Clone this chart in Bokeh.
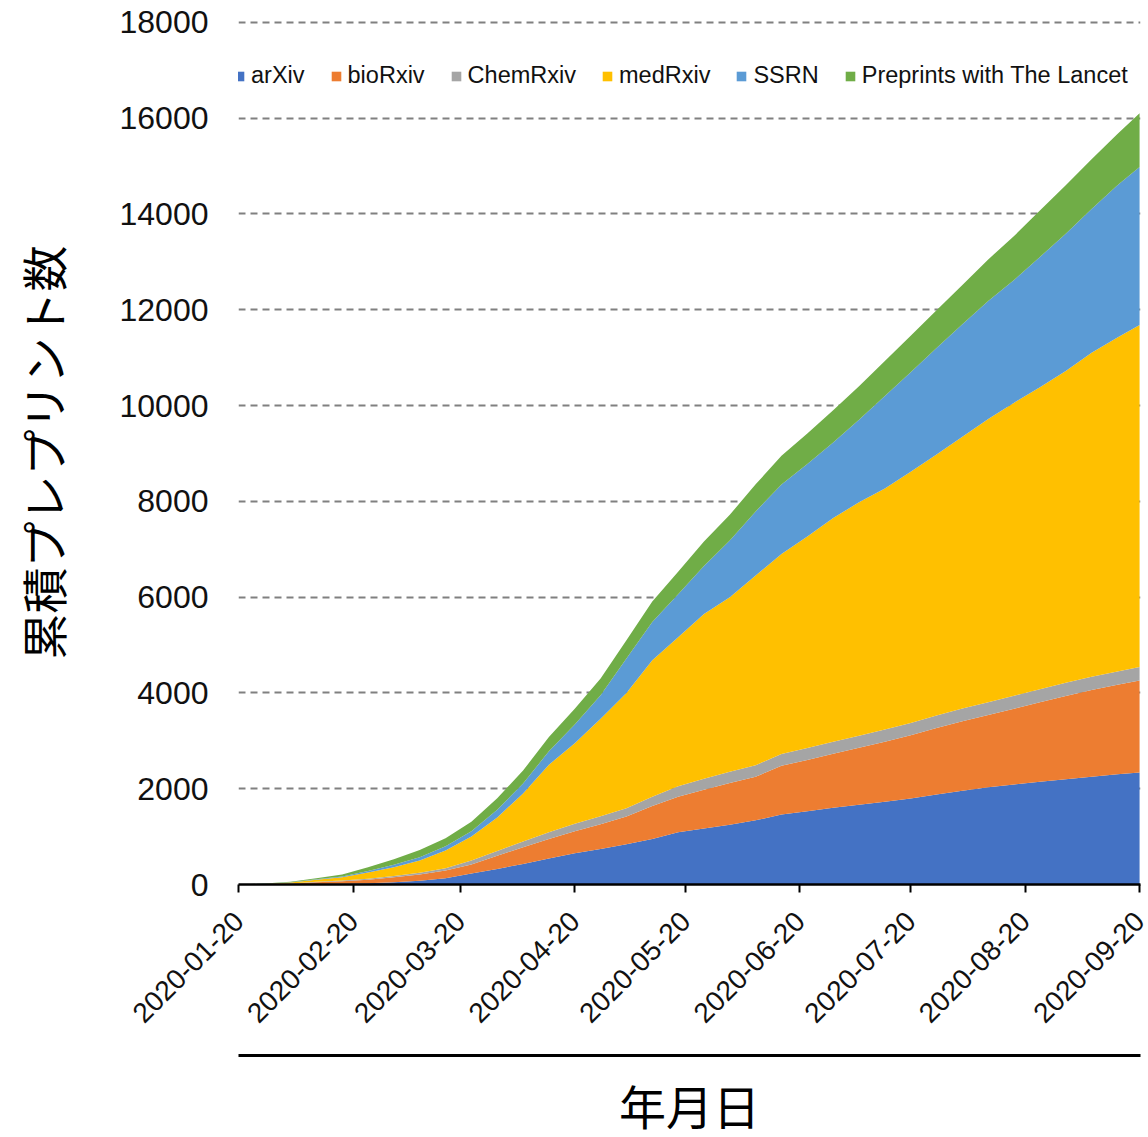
import pandas as pd
from math import pi
from bokeh.plotting import figure
from bokeh.models import ColumnDataSource, FixedTicker, DatetimeTickFormatter, LinearAxis
from bokeh.embed import file_html
from bokeh.resources import INLINE

# ---------------- data (cumulative preprints per server) ----------------
dates = ["2020-01-20", "2020-01-27", "2020-02-03", "2020-02-10", "2020-02-17", "2020-02-24",
         "2020-03-02", "2020-03-09", "2020-03-16", "2020-03-23", "2020-03-30", "2020-04-06",
         "2020-04-13", "2020-04-20", "2020-04-27", "2020-05-04", "2020-05-11", "2020-05-18",
         "2020-05-25", "2020-06-01", "2020-06-08", "2020-06-15", "2020-06-22", "2020-06-29",
         "2020-07-06", "2020-07-13", "2020-07-20", "2020-07-27", "2020-08-03", "2020-08-10",
         "2020-08-17", "2020-08-24", "2020-08-31", "2020-09-07", "2020-09-14", "2020-09-20"]

arxiv = [0, 2, 5, 10, 15, 25, 45, 80, 130, 230, 325, 430, 545, 655, 740, 840, 950, 1090,
         1170, 1250, 1340, 1460, 1530, 1600, 1665, 1730, 1795, 1880, 1960, 2030, 2090, 2145,
         2195, 2250, 2300, 2340]
biorxiv = [0, 3, 10, 35, 55, 75, 105, 130, 160, 190, 275, 350, 405, 455, 520, 580, 690, 740,
           810, 870, 910, 1020, 1070, 1130, 1190, 1250, 1320, 1390, 1450, 1510, 1580, 1660,
           1740, 1810, 1870, 1920]
chemrxiv = [0, 2, 5, 10, 15, 20, 25, 35, 50, 80, 100, 120, 140, 160, 165, 170, 190, 220,
            230, 235, 240, 245, 248, 250, 252, 255, 258, 260, 263, 266, 270, 272, 275, 277,
            279, 281]
medrxiv = [0, 5, 20, 45, 65, 130, 185, 255, 370, 500, 700, 1000, 1410, 1680, 2035, 2410,
           2850, 3110, 3440, 3645, 3960, 4175, 4420, 4670, 4875, 5035, 5245, 5450, 5675,
           5915, 6120, 6305, 6510, 6765, 6970, 7140]
ssrn = [0, 3, 5, 10, 15, 30, 50, 70, 90, 110, 160, 210, 280, 390, 490, 720, 800, 900, 1000,
        1180, 1340, 1450, 1510, 1580, 1720, 1930, 2080, 2220, 2350, 2460, 2560, 2720, 2870,
        3000, 3180, 3300]
lancet = [0, 5, 10, 20, 45, 80, 115, 150, 165, 200, 240, 270, 300, 330, 350, 380, 430, 470,
          510, 540, 565, 600, 640, 670, 700, 730, 760, 790, 820, 870, 920, 970, 1010, 1040,
          1070, 1120]

series_names = ["arXiv", "bioRxiv", "ChemRxiv", "medRxiv", "SSRN", "Preprints with The Lancet"]
series_colors = ["#4472C4", "#ED7D31", "#A5A5A5", "#FFC000", "#5B9BD5", "#70AD47"]

x_tick_labels = ["2020-01-20", "2020-02-20", "2020-03-20", "2020-04-20", "2020-05-20",
                 "2020-06-20", "2020-07-20", "2020-08-20", "2020-09-20"]
y_ticks = [0, 2000, 4000, 6000, 8000, 10000, 12000, 14000, 16000, 18000]

y_title = "累積プレプリント数"
x_title = "年月日"

# ---------------- build ----------------
dt = pd.to_datetime(dates)
keys = ["s0", "s1", "s2", "s3", "s4", "s5"]
source = ColumnDataSource(dict(date=dt, s0=arxiv, s1=biorxiv, s2=chemrxiv,
                               s3=medrxiv, s4=ssrn, s5=lancet))

x_start = pd.Timestamp(x_tick_labels[0]) - pd.Timedelta(hours=2)
x_end = pd.Timestamp(x_tick_labels[-1]) + pd.Timedelta(hours=6)

p = figure(x_axis_type="datetime", output_backend="svg", toolbar_location=None,
           frame_width=902, frame_height=864,
           x_range=(x_start, x_end), y_range=(y_ticks[0], y_ticks[-1] + 40),
           min_border_left=238, min_border_right=8, min_border_top=20, min_border_bottom=0,
           background_fill_color="white", border_fill_color="white", outline_line_color=None)

p.varea_stack(stackers=keys, x="date", source=source, color=series_colors,
              legend_label=series_names)

tick_ms = [pd.Timestamp(d).value // 10**6 for d in x_tick_labels]
fmt = "%Y-%m-%d"
p.xaxis.ticker = FixedTicker(ticks=tick_ms)
p.xaxis.formatter = DatetimeTickFormatter(milliseconds=fmt, seconds=fmt, minsec=fmt, minutes=fmt,
                                          hourmin=fmt, hours=fmt, days=fmt, months=fmt, years=fmt)
p.xaxis.major_label_orientation = pi / 4
p.xaxis.major_label_text_font = "Liberation Sans"
p.xaxis.major_label_text_font_size = "28px"
p.xaxis.major_label_text_color = "#111111"
p.xaxis.axis_line_color = "black"
p.xaxis.axis_line_width = 2.5
p.xaxis.major_tick_line_color = "black"
p.xaxis.major_tick_line_width = 2
p.xaxis.major_tick_out = 8
p.xaxis.major_tick_in = 0
p.xaxis.minor_tick_line_color = None
p.xaxis.major_label_standoff = 24
p.xaxis.axis_label = " "
p.xaxis.axis_label_text_font_size = "2px"
p.xaxis.axis_label_standoff = 16

p.yaxis.ticker = FixedTicker(ticks=y_ticks)
p.yaxis.axis_line_color = None
p.yaxis.major_tick_line_color = None
p.yaxis.minor_tick_line_color = None
p.yaxis.major_label_standoff = 24
p.yaxis.major_label_text_font = "Liberation Sans"
p.yaxis.major_label_text_font_size = "32px"
p.yaxis.major_label_text_color = "#111111"
p.yaxis.axis_label = y_title
p.yaxis.axis_label_text_font = "Noto Sans CJK JP"
p.yaxis.axis_label_text_font_size = "46px"
p.yaxis.axis_label_text_font_style = "normal"
p.yaxis.axis_label_text_color = "black"
p.yaxis.axis_label_standoff = 42

p.xgrid.grid_line_color = None
p.ygrid.ticker = FixedTicker(ticks=y_ticks)
p.ygrid.grid_line_color = "#808080"
p.ygrid.grid_line_width = 2.2
p.ygrid.grid_line_dash = "7 5"

# second axis below: plain line + title
ax2 = LinearAxis(ticker=FixedTicker(ticks=[]), axis_line_color="black", axis_line_width=3,
                 major_tick_line_color=None, minor_tick_line_color=None,
                 axis_label=x_title, axis_label_text_font="Noto Sans CJK JP",
                 axis_label_text_font_size="47px", axis_label_text_font_style="normal",
                 axis_label_text_color="black", axis_label_standoff=14)
p.add_layout(ax2, "below")

lg = p.legend[0]
lg.orientation = "horizontal"
lg.location = (-5, 795)
lg.glyph_width = 12
lg.glyph_height = 12
lg.label_standoff = 6
lg.spacing = 25
lg.padding = 0
lg.margin = 0
lg.border_line_color = None
lg.background_fill_alpha = 0
lg.label_text_font = "Liberation Sans"
lg.label_text_font_size = "23.5px"
lg.label_text_color = "#111111"

open("out.html", "w").write(file_html(p, INLINE))
